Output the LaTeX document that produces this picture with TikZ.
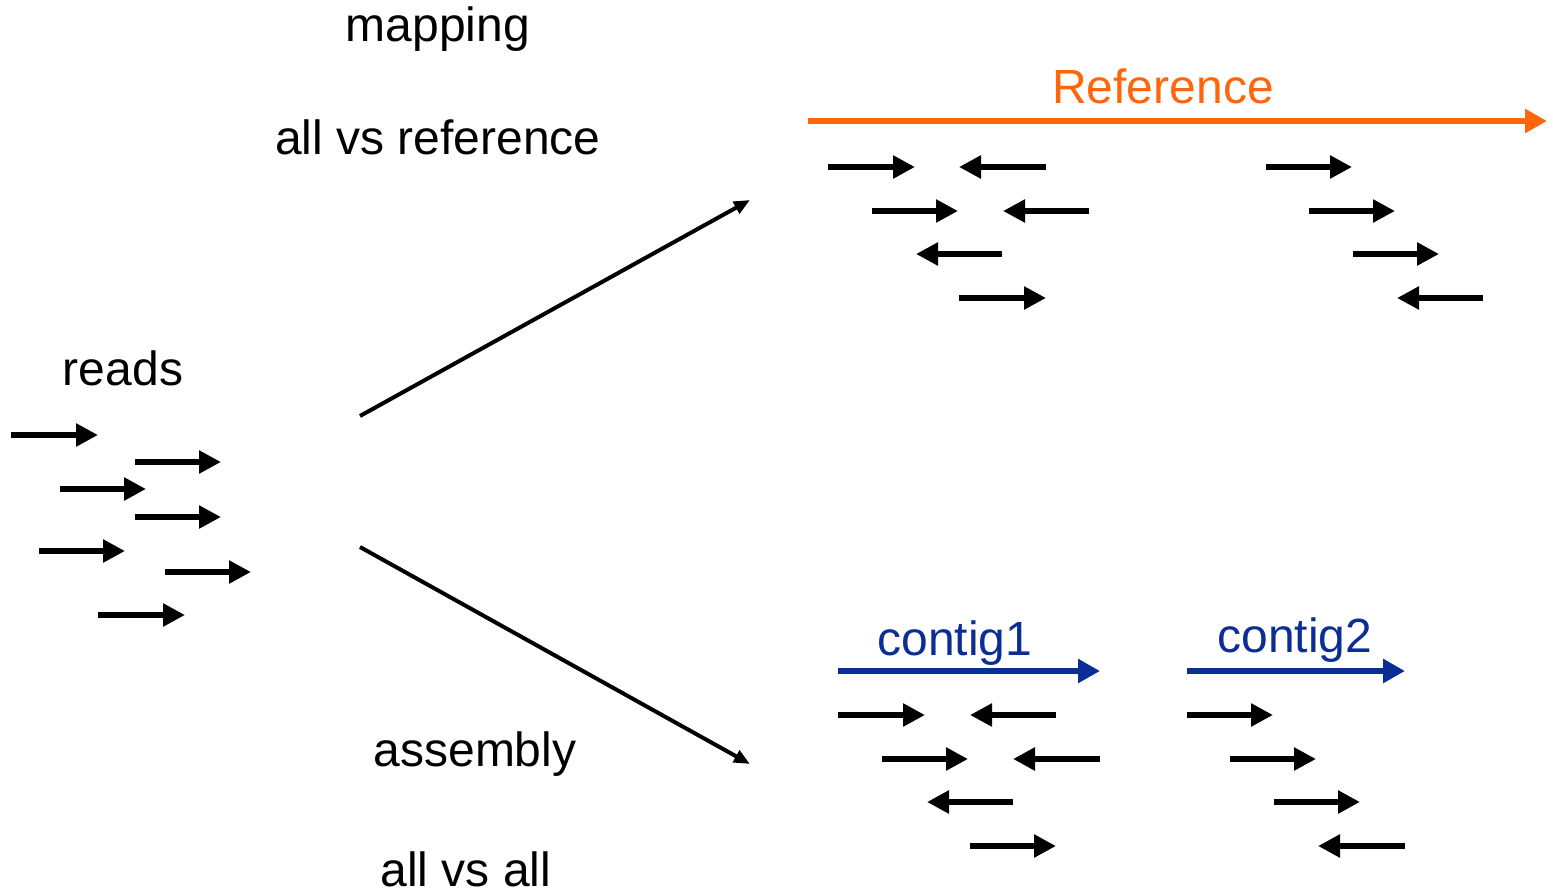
\documentclass[tikz,border=0pt]{standalone}
\usepackage{fontspec}
\setmainfont{Liberation Sans}
\usetikzlibrary{arrows.meta}
\definecolor{refor}{HTML}{FF650A}
\definecolor{ctgblue}{HTML}{0A2D96}
\begin{document}
\begin{tikzpicture}[x=1pt,y=-1pt,
  lbl/.style={inner sep=0pt,anchor=base,font=\fontsize{48}{57}\selectfont},
  readarr/.style={line width=6.5pt,-{Triangle[length=22pt,width=22pt]}},
  seqarr/.style={line width=6.5pt,-{Triangle[length=22pt,width=23pt]}},
  splitarr/.style={line width=4pt,-{Triangle[length=16pt,width=13pt]}}]
\useasboundingbox (0,0) rectangle (1553,888);
% labels
\node[lbl] (mapping) at (438,42) {mapping};
\node[lbl] (allvsref) at (438,155) {all vs reference};
\node[lbl] (reads) at (123,385) {reads};
\node[lbl] (assembly) at (475,766) {assembly};
\node[lbl] (allvsall) at (466,886) {all vs all};
\node[lbl,text=refor] (reflbl) at (1163,104) {Reference};
\node[lbl,text=ctgblue] (c1lbl) at (955,655) {contig1};
\node[lbl,text=ctgblue] (c2lbl) at (1295,652) {contig2};
% split arrows
\coordinate (splitU) at (360,416);
\coordinate (mapEnd) at (750,200);
\coordinate (splitL) at (360,547);
\coordinate (asmEnd) at (750,764);
\draw[splitarr] (splitU) -- (mapEnd);
\draw[splitarr] (splitL) -- (asmEnd);
% sequences
\coordinate (refS) at (808,121);
\coordinate (refE) at (1547,121);
\draw[seqarr,refor] (refS) -- (refE);
\coordinate (c1S) at (838,671);
\coordinate (c1E) at (1100,671);
\draw[seqarr,ctgblue] (c1S) -- (c1E);
\coordinate (c2S) at (1187,671);
\coordinate (c2E) at (1405,671);
\draw[seqarr,ctgblue] (c2S) -- (c2E);
% reads (left)
\foreach \a/\b/\y in {11/98/435,135/221/462,60/146/489,135/221/517,39/125/551,165/251/572,98/185/615}
  \draw[readarr] (\a,\y) -- (\b,\y);
% reads mapped to reference
\foreach \a/\b/\y in {828/915/167,1046/959/167,872/958/211,1089/1003/211,1002/916/254,959/1046/298,
  1266/1352/167,1309/1395/211,1353/1439/254,1483/1397/298}
  \draw[readarr] (\a,\y) -- (\b,\y);
% reads assembled into contigs
\foreach \a/\b/\y in {838/925/715,1056/970/715,882/968/759,1100/1013/759,1013/927/802,970/1056/846,
  1187/1273/715,1230/1316/759,1274/1360/802,1405/1318/846}
  \draw[readarr] (\a,\y) -- (\b,\y);
\end{tikzpicture}
\end{document}
